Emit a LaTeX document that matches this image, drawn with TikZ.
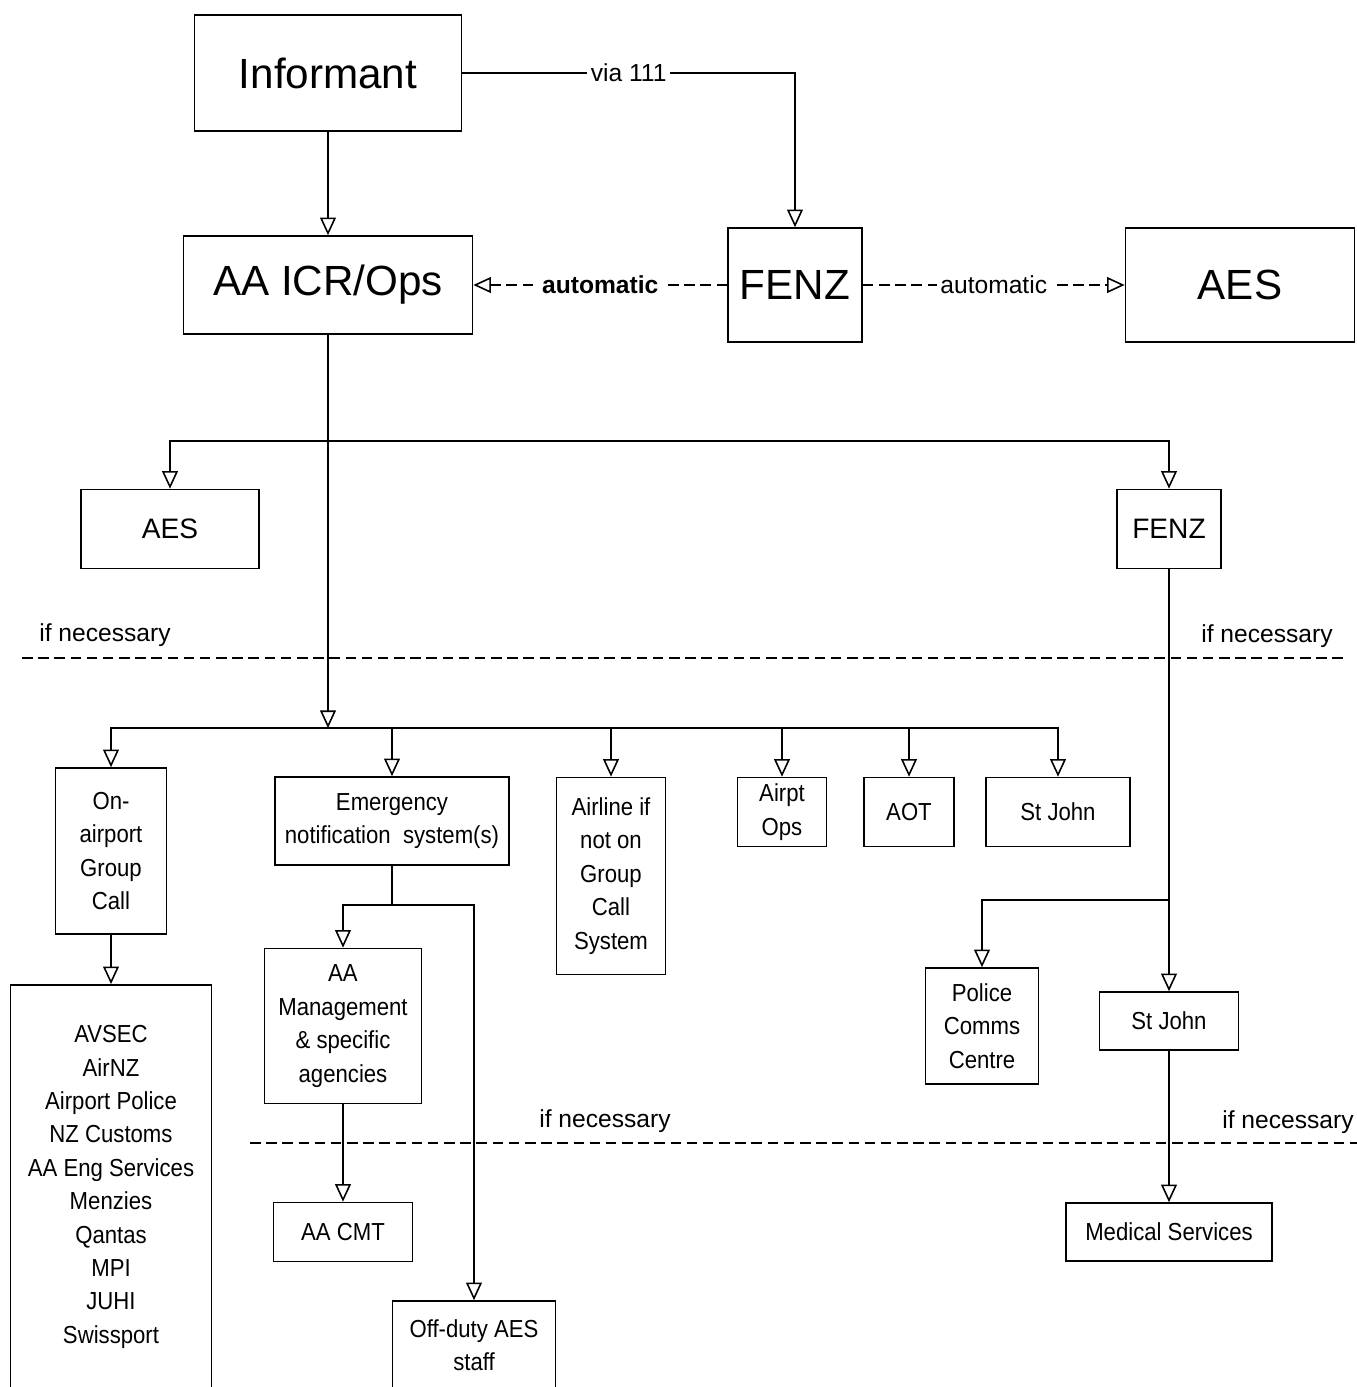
\documentclass[tikz,border=0pt]{standalone}
\usepackage{fontspec}
\setmainfont{Liberation Sans}
\newfontfamily\narrowfont{Liberation Sans}[FakeStretch=0.9]
\newcommand{\bigfont}{\fontsize{12}{14}\selectfont}
\newcommand{\midfont}{\fontsize{8}{10}\selectfont}
\newcommand{\smallfont}{\narrowfont\fontsize{7}{9.5}\selectfont}
\newcommand{\lblfont}{\fontsize{7}{8}\selectfont}
\usetikzlibrary{arrows.meta}
\tikzset{
  box/.style={draw, line width=0.45pt, inner sep=0pt, align=center, font=\smallfont},
  bigbox/.style={box, font=\bigfont},
  midbox/.style={box, font=\midfont},
  link/.style={line width=0.45pt},
  tip/.style={-{Triangle[open,length=5pt,width=4.5pt]}},
  dashline/.style={line width=0.45pt, dash pattern=on 3pt off 1.6pt},
  lbl/.style={fill=white, inner sep=1pt, font=\lblfont}
}
\begin{document}
\begin{tikzpicture}[x=0.01cm,y=-0.01cm]
\useasboundingbox (0,0) rectangle (1357,1387);
% top row
\node[bigbox, minimum width=2.67cm, minimum height=1.16cm] (inf) at (328,73) {Informant};
\node[bigbox, minimum width=2.89cm, minimum height=0.98cm] (icr) at (328,285) {AA ICR/Ops};
\node[bigbox, minimum width=1.34cm, minimum height=1.14cm] (fenz) at (795,285) {FENZ};
\node[bigbox, minimum width=2.29cm, minimum height=1.14cm] (aes) at (1240,285) {AES};
\draw[link,tip] (inf) -- (icr);
\draw[link,tip] (inf.east) -| node[lbl,pos=0.25] {via 111} (fenz.north);
\draw[dashline,tip] (fenz) -- node[lbl,font=\lblfont\bfseries] {automatic} (icr);
\draw[dashline,tip] (fenz) -- node[lbl] {automatic} (aes);
% first split
\node[midbox, minimum width=1.78cm, minimum height=0.79cm] (aes2) at (170,529) {AES};
\node[midbox, minimum width=1.04cm, minimum height=0.79cm] (fenz2) at (1169,529) {FENZ};
\coordinate (bus1) at (328,441);
\coordinate (bus2) at (328,728);
\draw[link,tip] (icr.south) -- (bus2);
\draw[link,tip] (bus1) -| (aes2.north);
\draw[link,tip] (bus1) -| (fenz2.north);
% if necessary
\draw[dashline] (22,658) -- (1345,658);
\node[font=\lblfont] (nec1) at (105,635) {if necessary};
\node[font=\lblfont] (nec2) at (1267,636) {if necessary};
% second row
\node[box, minimum width=1.11cm, minimum height=1.66cm] (onair) at (111,851) {On-\\airport\\Group\\Call};
\node[box, minimum width=2.34cm, minimum height=0.88cm] (ens) at (392,821) {Emergency\\notification\ \ system(s)};
\node[box, minimum width=1.09cm, minimum height=1.97cm] (airline) at (611,876) {Airline if\\not on\\Group\\Call\\System};
\node[box, minimum width=0.89cm, minimum height=0.69cm] (airpt) at (782,812) {Airpt\\Ops};
\node[box, minimum width=0.90cm, minimum height=0.69cm] (aot) at (909,812) {AOT};
\node[box, minimum width=1.44cm, minimum height=0.69cm] (stj) at (1058,812) {St John};
\foreach \n in {onair,ens,airline,airpt,aot,stj}
  \draw[link,tip] (bus2) -| (\n.north);
% lower boxes
\node[box, minimum width=2.01cm, minimum height=4.04cm] (list) at (111,1187)
  {AVSEC\\AirNZ\\Airport Police\\NZ Customs\\AA Eng Services\\Menzies\\Qantas\\MPI\\JUHI\\Swissport};
\node[box, minimum width=1.57cm, minimum height=1.55cm] (mgmt) at (343,1026) {AA\\Management\\\& specific\\agencies};
\node[box, minimum width=1.39cm, minimum height=0.59cm] (cmt) at (343,1232) {AA CMT};
\node[box, minimum width=1.63cm, minimum height=0.88cm] (offduty) at (474,1345) {Off-duty AES\\staff};
\node[box, minimum width=1.13cm, minimum height=1.16cm] (police) at (982,1026) {Police\\Comms\\Centre};
\node[box, minimum width=1.39cm, minimum height=0.58cm] (stj2) at (1169,1021) {St John};
\node[box, minimum width=2.06cm, minimum height=0.58cm] (med) at (1169,1232) {Medical Services};
\draw[link,tip] (onair) -- (list);
\coordinate (ensb) at (392,905);
\draw[link] (ens) -- (ensb);
\draw[link,tip] (ensb) -| (mgmt.north);
\draw[link,tip] (ensb) -| (offduty.north);
\draw[link,tip] (mgmt) -- (cmt);
\coordinate (split) at (1169,900);
\draw[link] (fenz2) -- (split);
\draw[link,tip] (split) -- (stj2);
\draw[link,tip] (split) -| (police.north);
\draw[link,tip] (stj2) -- (med);
% second if necessary
\draw[dashline] (250,1143) -- (1357,1143);
\node[font=\lblfont] (nec3) at (605,1121) {if necessary};
\node[font=\lblfont] (nec4) at (1288,1122) {if necessary};
\end{tikzpicture}
\end{document}
